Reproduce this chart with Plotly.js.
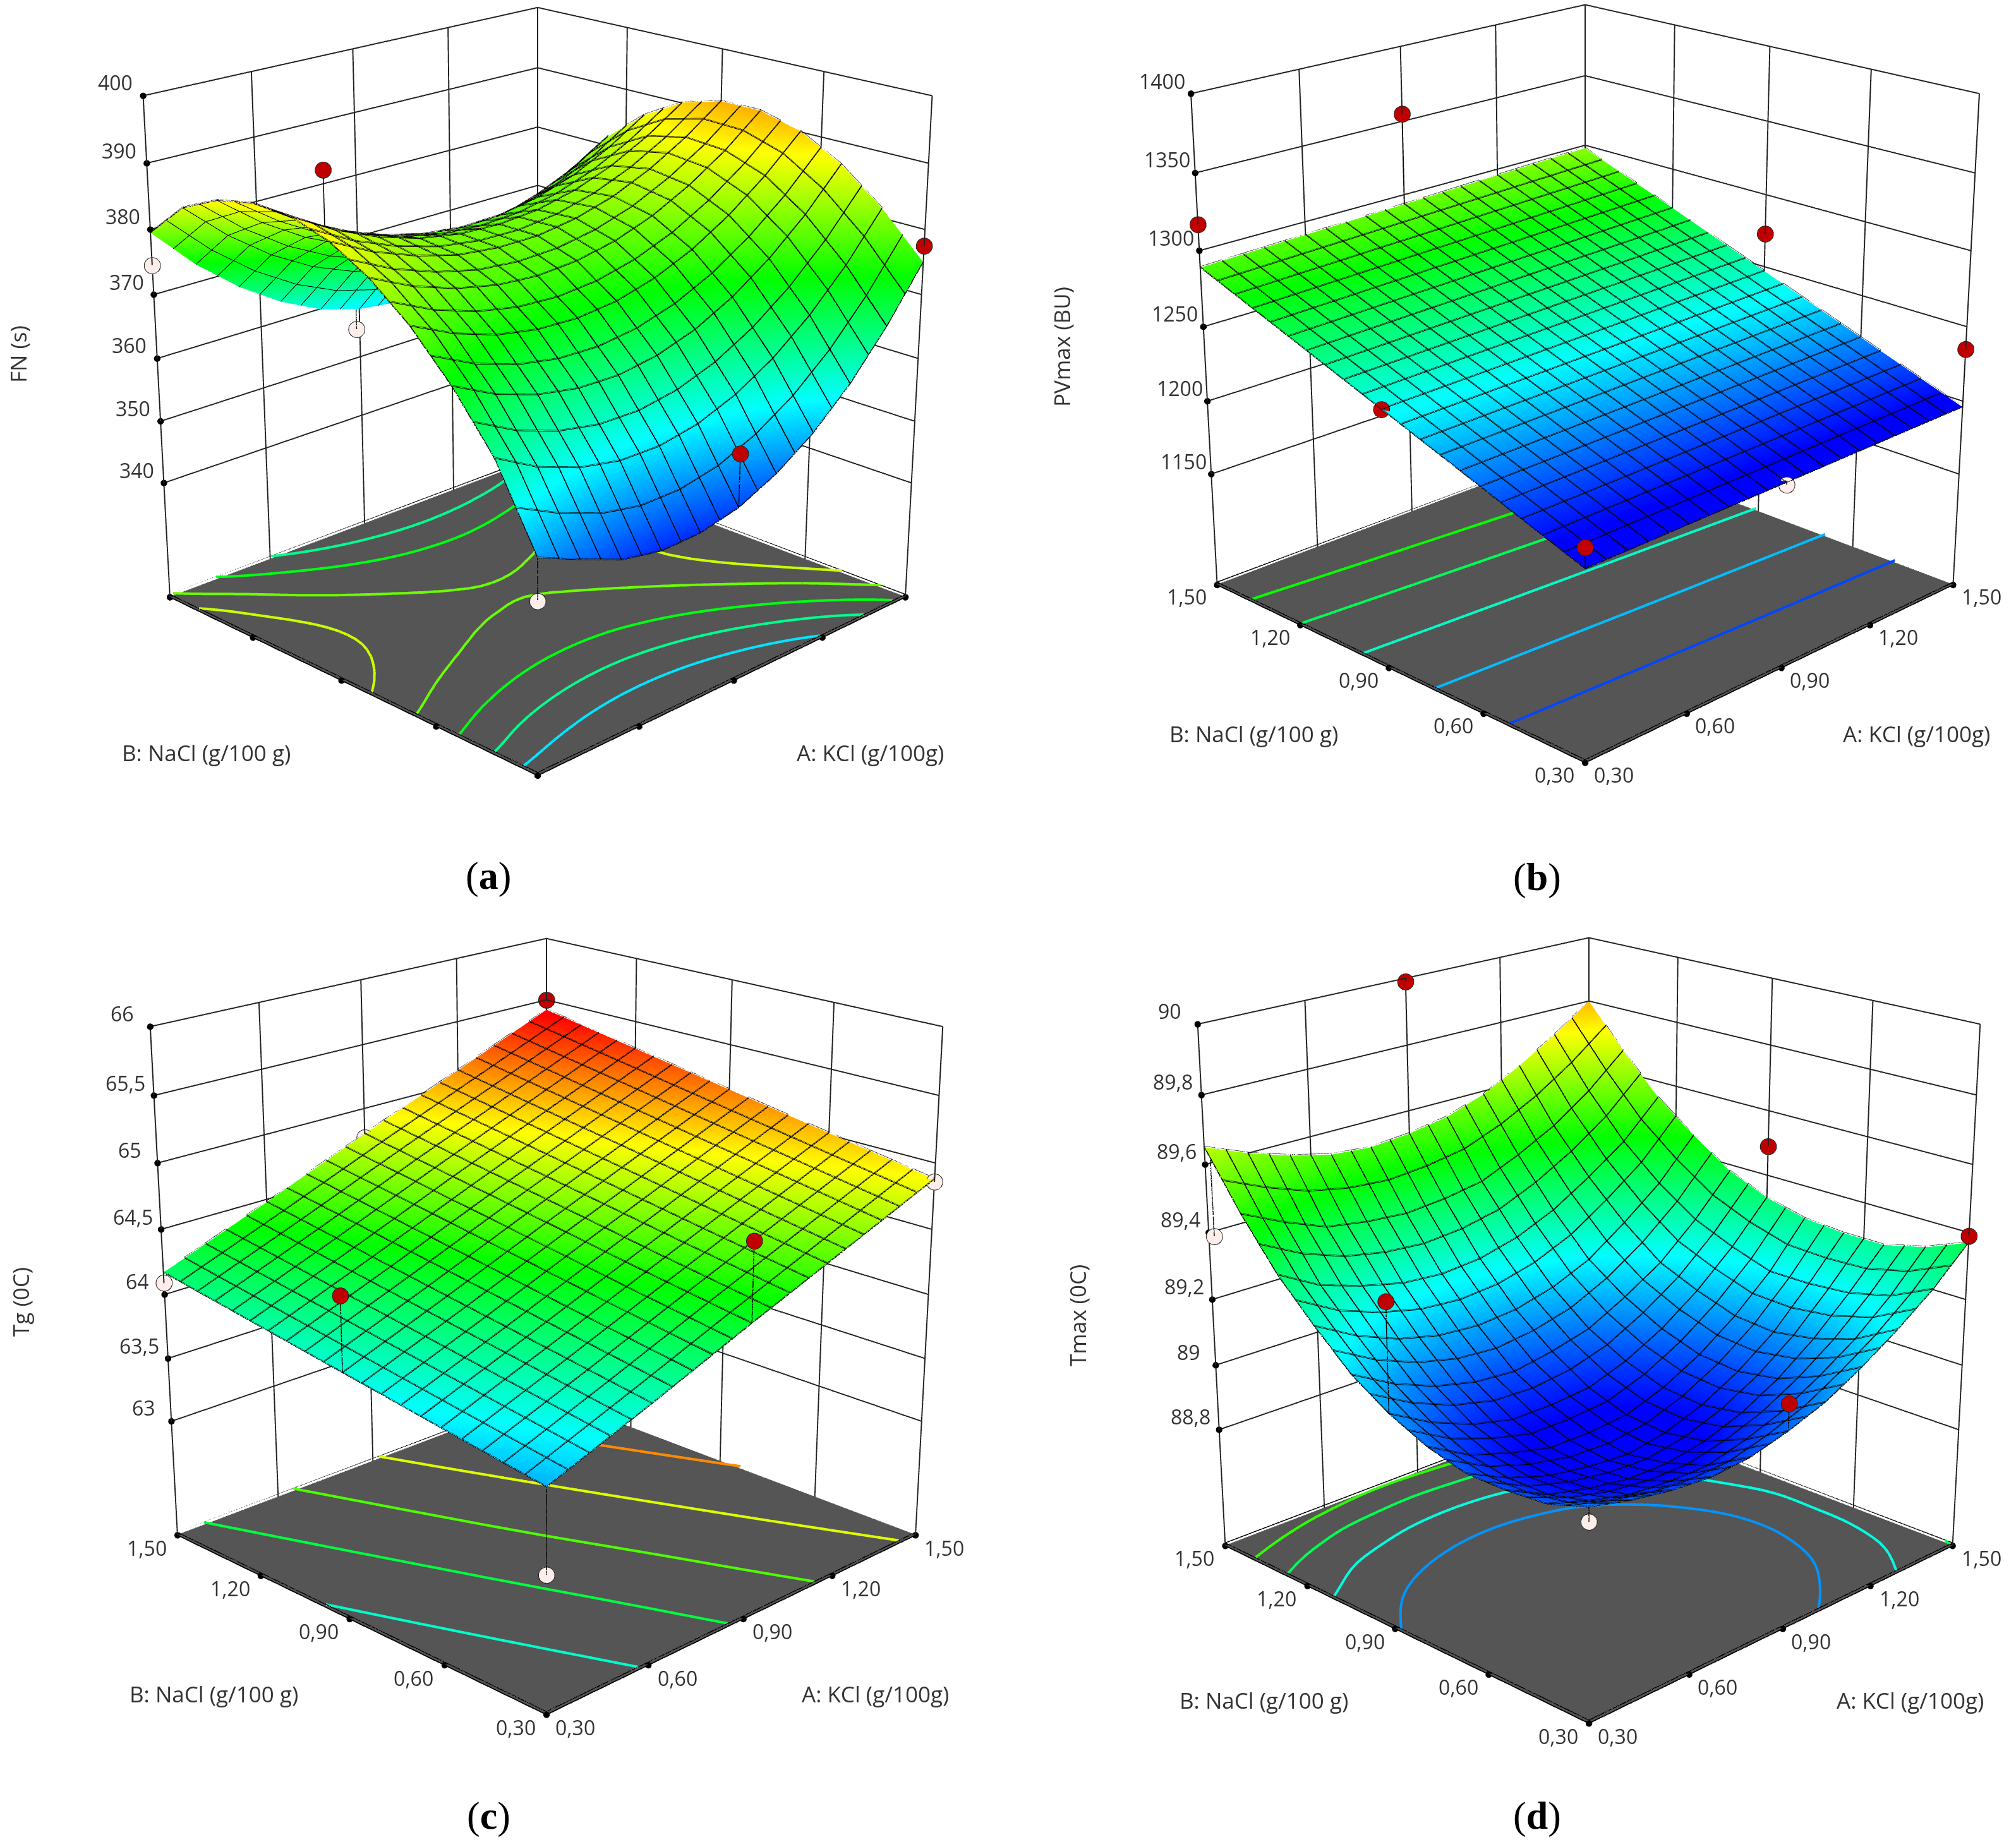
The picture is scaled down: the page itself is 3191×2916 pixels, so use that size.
<!DOCTYPE html>
<html><head><meta charset="utf-8">
<script src="https://cdn.plot.ly/plotly-3.0.1.min.js"></script>
<style>html,body{margin:0;padding:0;background:#fff;width:3191px;height:2916px;overflow:hidden}
.cell{position:absolute;overflow:hidden}.plot{position:absolute;transform-origin:0 0}</style></head><body>
<script>
// ---- shared grids and ticks
const gridFine=[0.30,0.42,0.54,0.66,0.78,0.90,1.02,1.14,1.26,1.38,1.50];
const gridCoarse=[0.30,0.60,0.90,1.20,1.50];
const meshLines=[0.30,0.36,0.42,0.48,0.54,0.60,0.66,0.72,0.78,0.84,0.90,0.96,1.02,1.08,1.14,1.20,1.26,1.32,1.38,1.44,1.50];
const factorTicks=[0.30,0.60,0.90,1.20,1.50];
const factorLabels=['0,30','0,60','0,90','1,20','1,50'];
const colors=[[0,'#0000ff'],[0.25,'#00ffff'],[0.5,'#00ff00'],[0.75,'#ffff00'],[1,'#ff0000']];

// ---- (a) FN
const fnValues=[
[353,350.2,347.6,346.4,346.6,348,350.8,354.8,360.2,367,375],
[364.7,361.1,358.7,357.4,357.3,358.4,360.7,364.1,368.7,374.5,381.5],
[372.6,369.3,367.1,365.9,365.7,366.6,368.5,371.5,375.5,380.5,386.6],
[379,375.9,373.7,372.5,372.2,372.8,374.4,376.9,380.4,384.8,390.1],
[383.8,380.7,378.5,377.1,376.6,377,378.2,380.3,383.3,387.1,391.8],
[387.1,383.8,381.4,379.7,379,379,379.9,381.6,384.2,387.6,391.8],
[388.9,385.2,382.4,380.4,379.3,379,379.5,380.9,383.1,386.2,390.1],
[389.1,384.9,381.5,379.1,377.5,376.8,377,378.1,380,382.9,386.6],
[387.8,382.8,378.8,375.8,373.7,372.6,372.4,373.3,375.2,377.8,381.5],
[385,379.1,374.3,370.6,368,366.4,365.9,366.5,368.1,370.8,374.6],
[379.5,372.8,367.4,363.1,359.9,358,357.2,357.7,359.3,362,366]];
const fnLevels=[357,365,372,379,384.5];
const fnZTicks=[340,350,360,370,380,390,400];
const fnZLabels=['340','350','360','370','380','390','400'];
const fnPtA=[0.8,0.89,1.5,1.5,0.3,0.9,0.3];
const fnPtB=[1.5,1.5,1.5,0.3,1.5,0.3,0.3];
const fnPtZ=[382.2,354.8,366.5,377.5,374.5,356.2,346.8];
const fnPtRed=[1,0,1,1,0,1,0];

// ---- (b) PVmax
const pvValues=[
[1193,1193.8,1194.5,1195.3,1196],
[1217,1218.1,1219.3,1220.4,1221.5],
[1241,1242.5,1244,1245.5,1247],
[1265,1266.9,1268.8,1270.6,1272.5],
[1289,1291.3,1293.5,1295.8,1298]];
const pvLevels=[1210.6,1228.8,1247.6,1264.5,1278.7];
const pvZTicks=[1150,1200,1250,1300,1350,1400];
const pvZLabels=['1150','1200','1250','1300','1350','1400'];
const pvPtA=[0.3,0.9,1.5,1.5,0.3,0.3,0.9];
const pvPtB=[1.5,1.5,0.9,0.3,0.9,0.3,0.3];
const pvPtZ=[1317,1355,1273,1235,1241,1206,1193];
const pvPtRed=[1,1,1,1,1,1,0];

// ---- (c) Tg
const tgValues=[
[63.71,64.00,64.30,64.59,64.88],
[63.825,64.12,64.42,64.72,65.015],
[63.94,64.24,64.55,64.85,65.15],
[64.055,64.36,64.675,64.98,65.285],
[64.17,64.48,64.80,65.11,65.42]];
const tgLevels=[63.97,64.25,64.53,64.82,65.12];
const tgZTicks=[63,63.5,64,64.5,65,65.5,66];
const tgZLabels=['63','63,5','64','64,5','65','65,5','66'];
const tgPtA=[0.3,0.3,1.5,1.5,0.3,0.9,0.9];
const tgPtB=[0.3,1.5,0.3,1.5,0.9,0.3,1.5];
const tgPtZ=[63.09,64.09,64.86,65.5,64.5,64.89,64.77];
const tgPtRed=[0,0,0,1,1,1,0];

// ---- (d) Tmax
const tmaxValues=[
[89.04,89.01,88.99,88.98,88.99,89.02,89.06,89.12,89.19,89.27,89.37],
[89.00,88.96,88.93,88.92,88.92,88.95,88.99,89.05,89.12,89.21,89.32],
[88.99,88.93,88.90,88.88,88.88,88.90,88.94,89.00,89.08,89.18,89.29],
[88.99,88.93,88.89,88.87,88.86,88.88,88.92,88.98,89.06,89.17,89.29],
[89.02,88.95,88.91,88.88,88.88,88.89,88.93,88.99,89.07,89.17,89.30],
[89.07,89.00,88.95,88.92,88.92,88.93,88.97,89.03,89.11,89.21,89.33],
[89.14,89.07,89.02,88.99,88.98,89.00,89.03,89.09,89.16,89.26,89.38],
[89.24,89.17,89.12,89.09,89.08,89.09,89.12,89.17,89.25,89.34,89.46],
[89.35,89.28,89.24,89.21,89.20,89.21,89.24,89.29,89.36,89.44,89.55],
[89.49,89.43,89.38,89.36,89.35,89.36,89.38,89.43,89.49,89.57,89.67],
[89.65,89.60,89.56,89.53,89.52,89.53,89.55,89.59,89.65,89.72,89.80]];
const tmaxLevels=[89.06,89.21,89.36,89.5];
const tmaxZTicks=[88.8,89,89.2,89.4,89.6,89.8,90];
const tmaxZLabels=['88,8','89','89,2','89,4','89,6','89,8','90'];
const tmaxPtA=[0.9,1.5,0.3,1.5,0.3,0.9,0.3];
const tmaxPtB=[1.5,0.9,1.48,0.3,0.9,0.3,0.3];
const tmaxPtZ=[89.99,89.49,89.395,89.39,89.39,89.10,89.0];
const tmaxPtRed=[1,1,0,1,1,1,0];

const panels=[
 {cell:[0,0,1596,1458],cx:851,cy:652,dist:5.13,el:21.2,zasp:0.99,grid:gridFine,z:fnValues,levels:fnLevels,zr:[321,400],cr:[344,402],zt:fnZTicks,zl:fnZLabels,
  a:fnPtA,b:fnPtB,pz:fnPtZ,red:fnPtRed,ztitle:'FN (s)',zxy:[28,560],blab:[326,1190],alab:[1378,1190],cap:'(<b>a</b>)',capxy:[773,1384]},
 {cell:[1596,0,1595,1458],cx:2509,cy:640,dist:5.13,el:21.2,zasp:0.97,grid:gridCoarse,z:pvValues,levels:pvLevels,zr:[1072,1400],cr:[1200,1355],zt:pvZTicks,zl:pvZLabels,
  a:pvPtA,b:pvPtB,pz:pvPtZ,red:pvPtRed,ztitle:'PVmax (BU)',zxy:[1681,549],blab:[1984,1160],alab:[3034,1160],cap:'(<b>b</b>)',capxy:[2432,1386]},
 {cell:[0,1458,1596,1458],cx:865,cy:2132,dist:5.11,el:21.2,zasp:1.0,grid:gridCoarse,z:tgValues,levels:tgLevels,zr:[62.07,66],cr:[63.35,65.4],zt:tgZTicks,zl:tgZLabels,
  a:tgPtA,b:tgPtB,pz:tgPtZ,red:tgPtRed,ztitle:'Tg (0C)',zxy:[33,2061],blab:[338,2680],alab:[1386,2680],cap:'(<b>c</b>)',capxy:[773,2873]},
 {cell:[1596,1458,1595,1458],cx:2515,cy:2138,dist:5.18,el:21.2,zasp:1.04,grid:gridFine,z:tmaxValues,levels:tmaxLevels,zr:[88.43,90],cr:[88.9,90.0],zt:tmaxZTicks,zl:tmaxZLabels,
  a:tmaxPtA,b:tmaxPtB,pz:tmaxPtZ,red:tmaxPtRed,ztitle:'Tmax (0C)',zxy:[1705,2082],blab:[2000,2690],alab:[3024,2690],cap:'(<b>d</b>)',capxy:[2432,2873]}
];

const SCALE=2, FULL_W=1800, FULL_H=3591, PLOT_W=FULL_W/SCALE, PLOT_H=FULL_H/SCALE;

function lookup(g,Z,a,b){
  const f=(arr,v)=>{let i=Math.min(arr.length-2,Math.max(0,arr.findIndex((q,k)=>k<arr.length-1&&v<=arr[k+1]+1e-9)));return [i,(v-arr[i])/(arr[i+1]-arr[i])]};
  const [i,u]=f(g,a),[j,v]=f(g,b);
  return Z[j][i]*(1-u)*(1-v)+Z[j][i+1]*u*(1-v)+Z[j+1][i]*(1-u)*v+Z[j+1][i+1]*u*v;
}
// smooth resampling used only to trace the floor isolines
function spline1d(a,n){
  const out=[],m=a.length;
  for(let i=0;i<m-1;i++){
    const p0=i>0?a[i-1]:2*a[0]-a[1],p1=a[i],p2=a[i+1],p3=i<m-2?a[i+2]:2*a[m-1]-a[m-2];
    for(let k=0;k<n;k++){const t=k/n;
      out.push(0.5*(2*p1+(p2-p0)*t+(2*p0-5*p1+4*p2-p3)*t*t+(3*p1-p0-3*p2+p3)*t*t*t));}
  }
  out.push(a[m-1]);return out;
}
function resample(g,Z,n){
  const rows=Z.map(r=>spline1d(r,n));
  const cols=rows[0].map((_,i)=>spline1d(rows.map(r=>r[i]),n));
  return {g:spline1d(g,n),Z:cols[0].map((_,j)=>cols.map(c=>c[j]))};
}
function contourSegments(g,Z,lev,zf){
  const X=[],Y=[],W=[];
  for(let j=0;j<g.length-1;j++)for(let i=0;i<g.length-1;i++){
    const c=[[g[i],g[j],Z[j][i]],[g[i+1],g[j],Z[j][i+1]],[g[i+1],g[j+1],Z[j+1][i+1]],[g[i],g[j+1],Z[j+1][i]]];
    const p=[];
    for(let k=0;k<4;k++){const s=c[k],e=c[(k+1)%4];
      if((s[2]>=lev)!==(e[2]>=lev)){const t=(lev-s[2])/(e[2]-s[2]);p.push([s[0]+t*(e[0]-s[0]),s[1]+t*(e[1]-s[1])]);}}
    for(let k=0;k+1<p.length;k+=2){X.push(p[k][0],p[k+1][0],null);Y.push(p[k][1],p[k+1][1],null);W.push(zf,zf,null);}
  }
  return {X,Y,W};
}
const flat={ambient:1,diffuse:0,specular:0,roughness:1,fresnel:0};

panels.forEach((p,idx)=>{
  const cell=document.createElement('div');cell.className='cell';
  cell.style.cssText=`left:${p.cell[0]}px;top:${p.cell[1]}px;width:${p.cell[2]}px;height:${p.cell[3]}px`;
  const div=document.createElement('div');div.className='plot';
  const absL=p.cx-FULL_W/2, absT=p.cy-FULL_H/2;
  div.style.cssText=`left:${absL-p.cell[0]}px;top:${absT-p.cell[1]}px;width:${PLOT_W}px;height:${PLOT_H}px;transform:scale(${SCALE})`;
  cell.appendChild(div);document.body.appendChild(cell);
  const span=p.zr[1]-p.zr[0], zFloor=p.zr[0]+span*0.001, zLine=p.zr[0]+span*0.006;
  const traces=[];
  const c3={show:true,start:0.30,end:1.501,size:0.06,color:'#000000',width:2,highlight:false};
  traces.push({type:'surface',x:p.grid,y:p.grid,z:p.z,colorscale:colors,cmin:p.cr[0],cmax:p.cr[1],showscale:false,
    lighting:flat,hoverinfo:'skip',contours:{x:c3,y:c3,z:{show:false,highlight:false}}});
  // mesh lines following the surface (slightly lifted so that they read as dark lines)
  const lift=span*0.002, mx=[],my=[],mz=[];
  meshLines.forEach(c=>{
    meshLines.forEach(t=>{mx.push(c);my.push(t);mz.push(lookup(p.grid,p.z,c,t)+lift);});
    mx.push(null);my.push(null);mz.push(null);
    meshLines.forEach(t=>{mx.push(t);my.push(c);mz.push(lookup(p.grid,p.z,t,c)+lift);});
    mx.push(null);my.push(null);mz.push(null);
  });
  traces.push({type:'scatter3d',mode:'lines',x:mx,y:my,z:mz,connectgaps:false,hoverinfo:'skip',showlegend:false,line:{color:'#111111',width:0.7}});
  traces.push({type:'surface',x:[0.3,1.5],y:[0.3,1.5],z:[[zFloor,zFloor],[zFloor,zFloor]],
    surfacecolor:[[0,0],[0,0]],colorscale:[[0,'#555555'],[1,'#555555']],cmin:0,cmax:1,showscale:false,lighting:flat,hoverinfo:'skip',
    contours:{x:{highlight:false},y:{highlight:false},z:{highlight:false}}});
  const fine=resample(p.grid,p.z,4);
  p.levels.forEach(lev=>{
    const s=contourSegments(fine.g,fine.Z,lev,zLine);
    traces.push({type:'scatter3d',mode:'lines',x:s.X,y:s.Y,z:s.W,connectgaps:false,hoverinfo:'skip',showlegend:false,
      line:{width:4,color:s.X.map(v=>lev),colorscale:colors,cmin:p.cr[0],cmax:p.cr[1],showscale:false}});
  });
  // floor outline
  traces.push({type:'scatter3d',mode:'lines',x:[0.3,1.5,1.5,0.3,0.3],y:[0.3,0.3,1.5,1.5,0.3],z:[zLine,zLine,zLine,zLine,zLine],
    line:{color:'#000',width:1.5},hoverinfo:'skip',showlegend:false});
  // stems
  const sx=[],sy=[],sz=[];
  p.a.forEach((a,i)=>{sx.push(a,a,null);sy.push(p.b[i],p.b[i],null);sz.push(p.pz[i],lookup(p.grid,p.z,a,p.b[i]),null);});
  traces.push({type:'scatter3d',mode:'lines',x:sx,y:sy,z:sz,connectgaps:false,line:{color:'#000',width:1.5},hoverinfo:'skip',showlegend:false});
  // tick dots (before the design points so those stay on top)
  const tx=[...factorTicks,...factorTicks.map(()=>0.3),...p.zt.map(()=>0.3)];
  const ty=[...factorTicks.map(()=>0.3),...factorTicks,...p.zt.map(()=>1.5)];
  const tz=[...factorTicks.map(()=>p.zr[0]),...factorTicks.map(()=>p.zr[0]),...p.zt];
  traces.push({type:'scatter3d',mode:'markers',x:tx,y:ty,z:tz,hoverinfo:'skip',showlegend:false,marker:{size:3,color:'#000',opacity:1}});
  // design points
  traces.push({type:'scatter3d',mode:'markers',x:p.a,y:p.b,z:p.pz,hoverinfo:'skip',showlegend:false,
    marker:{size:7.5,color:p.red.map(r=>r?'#c00000':'#fdeeea'),opacity:1,line:{color:'#222',width:0.5}}});

  const annS=[];
  const lf={family:'Open Sans, sans-serif',size:16,color:'#333'};
  factorTicks.forEach((t,i)=>{
    annS.push({x:t,y:0.3,z:p.zr[0],text:factorLabels[i],showarrow:false,xshift:23,yshift:-10,font:lf});
    annS.push({x:0.3,y:t,z:p.zr[0],text:factorLabels[i],showarrow:false,xshift:-24,yshift:-10,font:lf});
  });
  p.zt.forEach((t,i)=>annS.push({x:0.3,y:1.5,z:t,text:p.zl[i],showarrow:false,xshift:-22,yshift:10,font:lf}));

  const toPaper=(xy)=>({x:(xy[0]-absL)/FULL_W,y:1-(xy[1]-absT)/FULL_H});
  const tf={family:'Open Sans, sans-serif',size:17.5,color:'#333'};
  const mk=(xy,text,font,angle)=>Object.assign(toPaper(xy),{xref:'paper',yref:'paper',text,showarrow:false,font,textangle:angle||0,xanchor:'center',yanchor:'middle'});
  const ann=[mk(p.blab,'B: NaCl (g/100 g)',tf),mk(p.alab,'A: KCl (g/100g)',tf),mk(p.zxy,p.ztitle,tf,-90),
    mk(p.capxy,p.cap,{family:'Liberation Serif, serif',size:31,color:'#000'})];

  const ax=(extra)=>Object.assign({showticklabels:false,ticks:'',showspikes:false,zeroline:false,title:{text:''},
    gridcolor:'#222',gridwidth:2,showgrid:true,showbackground:false,autorange:false,linecolor:'#000',linewidth:2,showline:true},extra);
  const rad=p.el*Math.PI/180, h=p.dist*Math.cos(rad)/Math.SQRT2, cz=-0.114;
  const layout={width:PLOT_W,height:PLOT_H,margin:{l:0,r:0,t:0,b:0},paper_bgcolor:'rgba(0,0,0,0)',showlegend:false,annotations:ann,
    scene:{domain:{x:[0,1],y:[0,1]},aspectmode:'manual',aspectratio:{x:1,y:1,z:p.zasp},dragmode:false,
      camera:{eye:{x:-h,y:-h,z:cz+p.dist*Math.sin(rad)},center:{x:0,y:0,z:cz},up:{x:0,y:0,z:1},projection:{type:'perspective'}},
      xaxis:ax({range:[0.3,1.5],tickvals:factorTicks}),
      yaxis:ax({range:[0.3,1.5],tickvals:factorTicks}),
      zaxis:ax({range:p.zr,tickvals:p.zt,showbackground:true,backgroundcolor:'#555555',showline:false}),
      annotations:annS}};
  Plotly.newPlot(div,traces,layout,{displayModeBar:false,responsive:false});
});
</script></body></html>
